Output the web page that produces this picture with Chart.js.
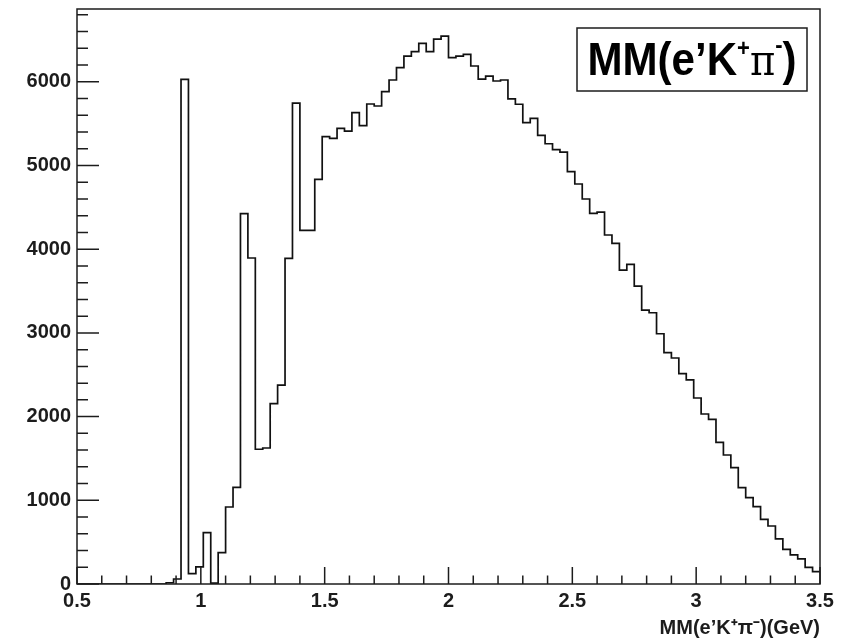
<!DOCTYPE html>
<html>
<head>
<meta charset="utf-8">
<script src="https://cdn.jsdelivr.net/npm/chart.js@4.4.1/dist/chart.umd.min.js"></script>
<style>
  html, body { margin: 0; padding: 0; background: #fff; }
  canvas { display: block; }
</style>
</head>
<body>
<canvas id="mmChart" width="849" height="643"></canvas>
<script>
// binning of the histogram
const xMin = 0.5;
const xMax = 3.5;
const binWidth = 0.03;
const yMax = 6870;

// entries per bin, 100 bins from 0.5 to 3.5 GeV
const counts = [
  0, 0, 0, 0, 0, 0, 0, 0, 0, 0,
  0, 0, 15, 60, 6030, 125, 205, 615, 10, 375,
  920, 1155, 4425, 3895, 1610, 1625, 2155, 2375, 3890, 5745,
  4225, 4225, 4835, 5344, 5325, 5444, 5412, 5631, 5476, 5735,
  5711, 5882, 6022, 6169, 6308, 6360, 6460, 6360, 6511, 6547,
  6288, 6308, 6329, 6189, 6033, 6069, 6010, 6022, 5797, 5732,
  5512, 5564, 5360, 5260, 5190, 5161, 4926, 4779, 4600, 4429,
  4444, 4170, 4070, 3751, 3819, 3560, 3273, 3241, 2990, 2764,
  2700, 2513, 2440, 2222, 2031, 1968, 1693, 1541, 1390, 1151,
  1031, 924, 773, 693, 538, 414, 347, 299, 199, 147
];

const xTicks = [0.5, 1, 1.5, 2, 2.5, 3, 3.5];
const yTicks = [0, 1000, 2000, 3000, 4000, 5000, 6000];
const xMinorStep = 0.1;
const yMinorStep = 200;
const axisTitle = 'MM(e\u2019K\u207A\u03C0\u207B)(GeV)';

// left bin edges, plus the closing edge at xMax
const points = counts.map((c, i) => ({ x: xMin + i * binWidth, y: c }));
points.push({ x: xMax, y: counts[counts.length - 1] });

const tickFont = { family: '"Liberation Sans", Arial, sans-serif', weight: 'bold', size: 20 };
const ink = '#1c1c1c';

// ROOT style frame: closed box, ticks pointing inward, title pave top right
const rootFrame = {
  id: 'rootFrame',
  afterDatasetsDraw(chart) {
    const { ctx, chartArea: a, scales: { x, y } } = chart;
    ctx.save();
    ctx.strokeStyle = ink;
    ctx.lineWidth = 1.5;
    ctx.strokeRect(a.left, a.top, a.right - a.left, a.bottom - a.top);

    ctx.beginPath();
    const nx = Math.round((xMax - xMin) / xMinorStep);
    for (let k = 0; k <= nx; k++) {
      const px = x.getPixelForValue(xMin + k * xMinorStep);
      const len = k % 5 === 0 ? 17 : 8.5;
      ctx.moveTo(px, a.bottom);
      ctx.lineTo(px, a.bottom - len);
    }
    for (let k = 0; k * yMinorStep <= yMax; k++) {
      const py = y.getPixelForValue(k * yMinorStep);
      const len = k % 5 === 0 ? 22 : 11;
      ctx.moveTo(a.left, py);
      ctx.lineTo(a.left + len, py);
    }
    ctx.stroke();

    // title pave
    const bw = 230, bh = 63;
    const bx = a.right - 13 - bw, by = a.top + 19;
    ctx.fillStyle = '#fff';
    ctx.fillRect(bx, by, bw, bh);
    ctx.lineWidth = 1.5;
    ctx.strokeRect(bx, by, bw, bh);

    const big = 'bold 46px "Liberation Sans", Arial, sans-serif';
    const sup = 'bold 24px "Liberation Sans", Arial, sans-serif';
    const sym = '42px "DejaVu Serif", serif';
    const parts = [
      { t: 'MM(e\u2019K', f: big, dy: 0 },
      { t: '+', f: sup, dy: -19 },
      { t: '\u03C0', f: sym, dy: 0 },
      { t: '-', f: sup, dy: -22 },
      { t: ')', f: big, dy: 0 }
    ];
    let total = 0;
    parts.forEach(p => { ctx.font = p.f; p.w = ctx.measureText(p.t).width; total += p.w; });
    const target = 209;
    const sx = target / total;
    ctx.translate(bx + bw / 2 - target / 2, by + 47);
    ctx.scale(sx, 1);
    ctx.fillStyle = '#000';
    ctx.textBaseline = 'alphabetic';
    let cx = 0;
    parts.forEach(p => {
      ctx.font = p.f;
      ctx.fillText(p.t, cx, p.dy);
      cx += p.w;
    });
    ctx.restore();
  }
};

new Chart(document.getElementById('mmChart'), {
  type: 'line',
  data: {
    datasets: [{
      label: 'MM',
      data: points,
      stepped: 'before',
      borderColor: '#111',
      borderWidth: 1.7,
      pointRadius: 0,
      fill: false,
      tension: 0
    }]
  },
  options: {
    responsive: false,
    animation: false,
    devicePixelRatio: 1,
    layout: { padding: { top: 9, right: 29, left: 0, bottom: 0 } },
    plugins: { legend: { display: false }, tooltip: { enabled: false } },
    scales: {
      x: {
        type: 'linear',
        min: xMin,
        max: xMax,
        grid: { display: false, drawTicks: false },
        border: { display: false },
        afterBuildTicks: s => { s.ticks = xTicks.map(v => ({ value: v })); },
        afterFit: s => { s.height = 59; s.paddingLeft = 0; s.paddingRight = 0; },
        ticks: {
          font: tickFont,
          color: ink,
          padding: 5,
          maxRotation: 0,
          autoSkip: false,
          callback: v => String(v)
        },
        title: {
          display: true,
          text: axisTitle,
          align: 'end',
          color: ink,
          font: { family: '"Liberation Sans", Arial, sans-serif', weight: 'bold', size: 20 },
          padding: { top: 0, bottom: 3 }
        }
      },
      y: {
        type: 'linear',
        min: 0,
        max: yMax,
        grid: { display: false, drawTicks: false },
        border: { display: false },
        afterBuildTicks: s => { s.ticks = yTicks.map(v => ({ value: v })); },
        afterFit: s => { s.width = 77; s.paddingTop = 0; s.paddingBottom = 0; },
        ticks: {
          font: tickFont,
          color: ink,
          padding: 6,
          callback: v => String(v)
        }
      }
    }
  },
  plugins: [rootFrame]
});
</script>
</body>
</html>
